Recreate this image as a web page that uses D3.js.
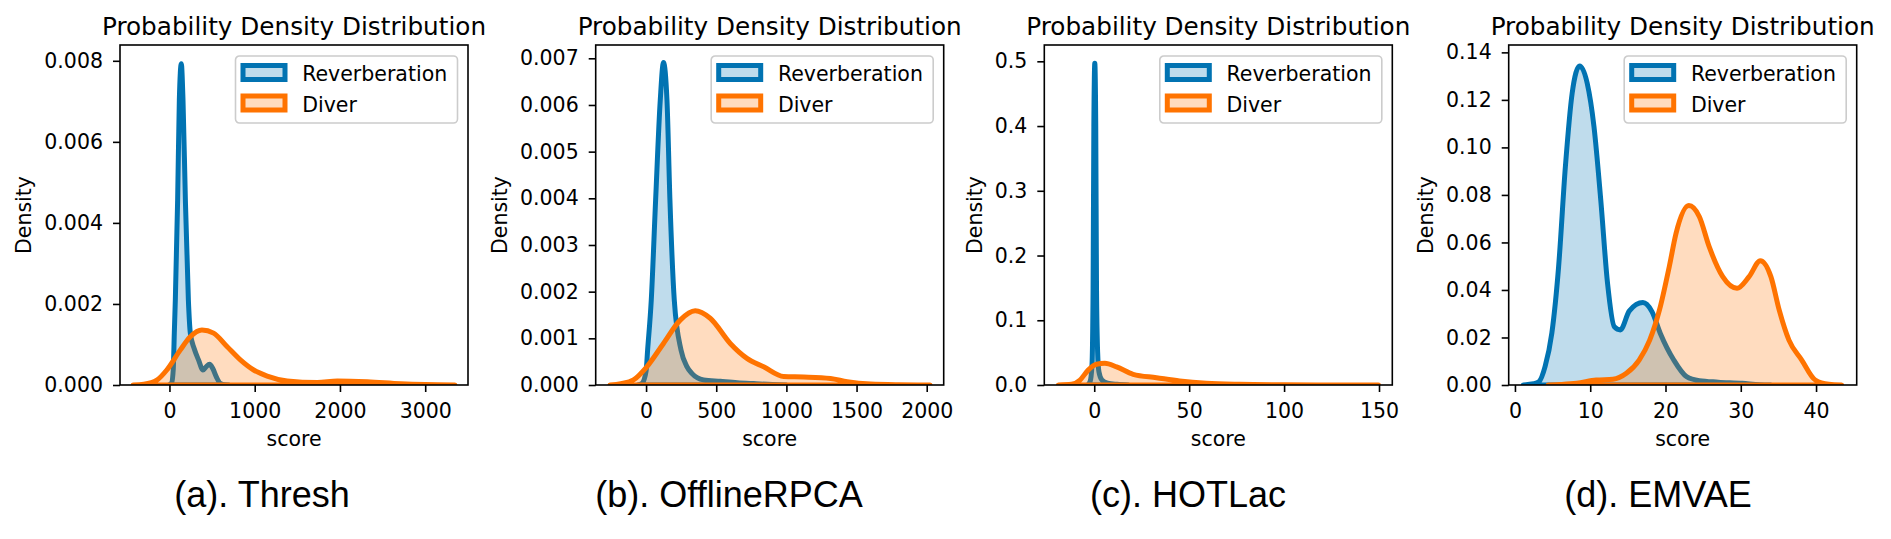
<!DOCTYPE html>
<html><head><meta charset="utf-8">
<script src="https://cdn.jsdelivr.net/npm/d3@7"></script>
<style>body{margin:0;background:#fff} svg{display:block}</style>
</head><body>
<svg id="chart" width="1891" height="539"></svg>
<script>
// ---------- data ----------
const panelCaptions = ["(a). Thresh", "(b). OfflineRPCA", "(c). HOTLac", "(d). EMVAE"];
const seriesNames = ["Reverberation", "Diver"];
const titleText = "Probability Density Distribution";
const xLabel = "score";
const yLabel = "Density";

const xDomains = [[-580, 3502], [-359, 2121], [-26.3, 157], [-0.83, 45.4]];
const yDomains = [[0, 0.00839], [0, 0.007285], [0, 0.5252], [0, 0.1431]];
const xTicks = [[0, 1000, 2000, 3000], [0, 500, 1000, 1500, 2000], [0, 50, 100, 150], [0, 10, 20, 30, 40]];
const yTicks = [
  [0, 0.002, 0.004, 0.006, 0.008],
  [0, 0.001, 0.002, 0.003, 0.004, 0.005, 0.006, 0.007],
  [0, 0.1, 0.2, 0.3, 0.4, 0.5],
  [0, 0.02, 0.04, 0.06, 0.08, 0.10, 0.12, 0.14]
];
const yFormats = [".3f", ".3f", ".1f", ".2f"];

// (a) Thresh
const threshReverb = [[-10,0],[25,0.00005],[45,0.0004],[57,0.00128],[69,0.0021],[96,0.00456],[116,0.00703],[139,0.00793],[159,0.00703],[187,0.00456],[222,0.0021],[245,0.00128],[290,0.0009],[341,0.00062],[393,0.00037],[430,0.00045],[471,0.00051],[510,0.0004],[550,0.0002],[596,0.00004],[650,0.000005],[700,0]];
const threshDiver = [[-427,0],[-300,0.00002],[-148,0.00012],[-31,0.00037],[126,0.00086],[244,0.00119],[381,0.001357],[518,0.00128],[675,0.00095],[832,0.00062],[988,0.00037],[1146,0.00022],[1381,0.0001],[1734,0.00006],[1969,0.0001],[2322,0.00008],[2714,0.00003],[3000,0.00001],[3349,0]];
// (b) OfflineRPCA
const rpcaReverb = [[-60,0],[-30,0.00003],[0,0.0003],[11,0.00075],[37,0.00182],[68,0.00396],[101,0.0061],[124,0.00691],[149,0.0061],[170,0.00396],[201,0.00182],[249,0.00075],[290,0.0004],[326,0.00025],[410,0.00011],[529,0.00008],[650,0.00005],[767,0.00003],[900,0.00001],[1000,0]];
const rpcaDiver = [[-257,0],[-180,0.00003],[-90,0.00011],[5,0.00039],[124,0.00089],[243,0.00139],[350,0.00159],[457,0.00143],[600,0.00089],[719,0.00057],[838,0.00039],[981,0.00018],[1124,0.00017],[1314,0.00014],[1433,0.00007],[1600,0.00002],[1800,0.000005],[2024,0]];
// (c) HOTLac
const hotlacReverb = [[-3.5,0],[-2.2,0.005],[-1.2,0.03],[-0.6,0.15],[-0.2,0.4],[0.3,0.497],[0.8,0.4],[1.2,0.15],[1.8,0.05],[2.5,0.02],[4,0.008],[7,0.003],[12,0.001],[18,0]];
const hotlacDiver = [[-18.9,0],[-12,0.001],[-7.5,0.0077],[-3.2,0.023],[1.2,0.032],[5.6,0.0335],[11.8,0.028],[20.5,0.0165],[32.8,0.0113],[45,0.0062],[59,0.0026],[76.5,0.001],[100,0.0003],[125,0.0001],[149.7,0]];
// (d) EMVAE
const emvaeReverb = [[1.1,0],[2.5,0.0005],[3.2,0.0014],[4.0,0.0077],[4.9,0.0218],[5.8,0.0498],[6.7,0.0919],[7.6,0.1228],[8.6,0.1343],[9.6,0.127],[10.5,0.1087],[11.4,0.0779],[12.3,0.0428],[13.2,0.0245],[14.0,0.0232],[15.2,0.0312],[17.0,0.0347],[18.2,0.0309],[19.3,0.0218],[21.1,0.0105],[22.8,0.0035],[24.5,0.0018],[27,0.0012],[30.2,0.0007],[32.5,0.0001],[34,0]];
const emvaeDiver = [[4.4,0],[6,0.0002],[8.2,0.0007],[10.8,0.0021],[13.0,0.0024],[14.8,0.0049],[16.5,0.0105],[17.9,0.0189],[19.2,0.0316],[20.5,0.0498],[21.4,0.0638],[23.1,0.0755],[24.5,0.0708],[25.8,0.0582],[27.6,0.0456],[29.5,0.0407],[31.1,0.0456],[32.6,0.0523],[34.0,0.0456],[35.1,0.0316],[36.4,0.0189],[38.1,0.0105],[39.9,0.0021],[41.7,0.0003],[43.4,0]];

const panelSeries = [
  [threshReverb, threshDiver],
  [rpcaReverb, rpcaDiver],
  [hotlacReverb, hotlacDiver],
  [emvaeReverb, emvaeDiver]
];

// ---------- layout / style ----------
const colors = ["#0173b2", "#ff7300"];
const axLeft = [120, 595.7, 1044.3, 1508.7];
const axTop = 45, axW = 348, axH = 340;
const captionX = [262, 729, 1188, 1658];
const FONT = "'DejaVu Sans', sans-serif";
const tickFont = 20.5, titleFont = 24.7;

const svg = d3.select("#chart");
const defs = svg.append("defs");

panelSeries.forEach((series, i) => {
  const g = svg.append("g").attr("transform", `translate(${axLeft[i]},${axTop})`);
  const x = d3.scaleLinear().domain(xDomains[i]).range([0, axW]);
  const y = d3.scaleLinear().domain(yDomains[i]).range([axH, 0]);

  defs.append("clipPath").attr("id", "clip" + i)
    .append("rect").attr("x", 0).attr("y", 0).attr("width", axW).attr("height", axH);

  const area = d3.area().x(d => x(d[0])).y0(y(0)).y1(d => y(d[1])).curve(d3.curveMonotoneX);
  const plot = g.append("g").attr("clip-path", `url(#clip${i})`);
  series.forEach((s, k) => {
    plot.append("path").datum(s).attr("d", area)
      .attr("fill", colors[k]).attr("fill-opacity", 0.25)
      .attr("stroke", colors[k]).attr("stroke-width", 5)
      .attr("stroke-linejoin", "round");
  });

  // axes
  const xa = g.append("g").attr("transform", `translate(0,${axH})`)
    .call(d3.axisBottom(x).tickValues(xTicks[i]).tickFormat(d3.format("d")).tickSize(7).tickPadding(11));
  const ya = g.append("g")
    .call(d3.axisLeft(y).tickValues(yTicks[i]).tickFormat(d3.format(yFormats[i])).tickSize(7).tickPadding(10));
  [xa, ya].forEach(a => {
    a.select(".domain").remove();
    a.selectAll("line").attr("stroke", "#000").attr("stroke-width", 1.6);
    a.selectAll("text").attr("fill", "#000").style("font-family", FONT).style("font-size", tickFont + "px");
  });

  // frame
  g.append("rect").attr("x", 0).attr("y", 0).attr("width", axW).attr("height", axH)
    .attr("fill", "none").attr("stroke", "#000").attr("stroke-width", 1.6);

  // title
  g.append("text").attr("x", axW / 2).attr("y", 35 - axTop).attr("text-anchor", "middle")
    .style("font-family", FONT).style("font-size", titleFont + "px").attr("fill", "#000").text(titleText);
  // x label
  g.append("text").attr("x", axW / 2).attr("y", 446 - axTop).attr("text-anchor", "middle")
    .style("font-family", FONT).style("font-size", tickFont + "px").attr("fill", "#000").text(xLabel);
  // y label
  const bb = ya.node().getBBox();
  const lx = bb.x - 13;
  g.append("text").attr("transform", `translate(${lx},${axH / 2}) rotate(-90)`)
    .attr("text-anchor", "middle")
    .style("font-family", FONT).style("font-size", tickFont + "px").attr("fill", "#000").text(yLabel);

  // legend
  const lw = 222, lh = 67;
  const lg = g.append("g").attr("transform", `translate(${axW - 10.5 - lw},11)`);
  lg.append("rect").attr("width", lw).attr("height", lh).attr("rx", 4)
    .attr("fill", "#fff").attr("fill-opacity", 0.8)
    .attr("stroke", "#cccccc").attr("stroke-width", 1.6);
  seriesNames.forEach((name, k) => {
    const cy = 16.5 + k * 30.5;
    lg.append("rect").attr("x", 7.5).attr("y", cy - 7).attr("width", 42).attr("height", 14)
      .attr("fill", colors[k]).attr("fill-opacity", 0.25)
      .attr("stroke", colors[k]).attr("stroke-width", 5);
    lg.append("text").attr("x", 66.7).attr("y", cy + 8.5)
      .style("font-family", FONT).style("font-size", tickFont + "px").attr("fill", "#000").text(name);
  });

  // caption
  svg.append("text").attr("x", captionX[i]).attr("y", 507).attr("text-anchor", "middle")
    .style("font-family", "'Liberation Sans', Arial, sans-serif").style("font-size", "36px")
    .attr("fill", "#000").text(panelCaptions[i]);
});
</script>
</body></html>
